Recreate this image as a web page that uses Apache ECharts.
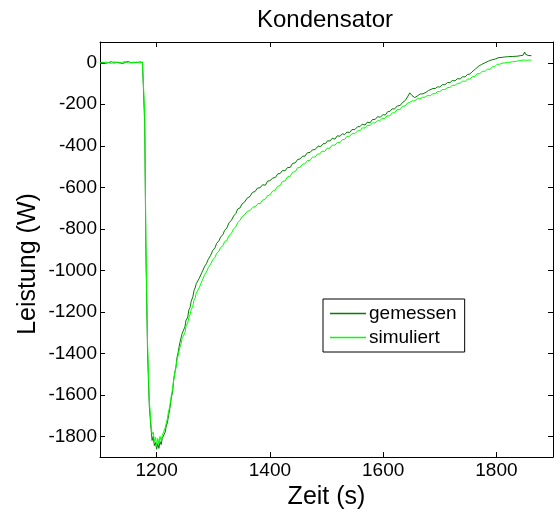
<!DOCTYPE html>
<html>
<head>
<meta charset="utf-8">
<script src="https://cdn.jsdelivr.net/npm/echarts@6/dist/echarts.min.js"></script>
<style>
html,body{margin:0;padding:0;background:#fff;}
#c{width:556px;height:515px;}
</style>
</head>
<body>
<div id="c"></div>
<script>
const titleText = 'Kondensator';
const xName = 'Zeit (s)';
const yName = 'Leistung (W)';
const seriesNames = ['gemessen', 'simuliert'];
const xTicks = [1200, 1400, 1600, 1800];
const yTicks = [0, -200, -400, -600, -800, -1000, -1200, -1400, -1600, -1800];

const gemessenT = [1100,1105,1110,1115,1120,1125,1130,1135,1140,1145,1150,1155,1160,1165,1170,1175,1178,1179,1181,1184,1187,1190,1192,1194,1196,1198,1200,1202,1204,1206,1208,1210,1212,
1215,1217,1219,1221,1223,1224,1226,1228,1230,1232,1234,1236,1238,1241,1243,1245,1247,1250,1252,1255,1257,1259,1261,1264,1266,1268,1270,1272,1275,1277,1280,1282,1285,1288,1291,1295,1299,1303,1306,1310,1313,1317,1320,1324,1328,1332,1336,1340,1343,1347,1351,1355,1360,1365,1369,1374,1378,1383,1387,1392,1396,1400,1405,1410,1414,1418,1422,1427,1431,1436,1440,1445,1449,1453,1458,1462,1466,1471,1475,1480,1485,1490,1494,1498,1502,1506,1510,1515,1519,1524,1528,1532,1536,1541,1545,1550,1555,1559,1563,1568,1572,1577,1581,1586,1590,1595,1600,1604,1608,1612,1616,1620,1625,1630,1634,1639,1643,1647,1651,1656,1659,1662,1666,1670,1673,1676,1680,1683,1688,1692,1696,1700,1705,1709,1714,1718,1722,1727,1731,1736,1740,1745,1749,1753,1757,1760,1763,1766,1769,1771,1774,1777,1780,1783,1786,1789,1792,1795,1798,1800,1803,1806,1810,1815,1820,1824,1828,1833,1838,1842,1845,1847,1848,1850,1851,1853,1856,1859,1862];
const gemessenV = [0,2,-3,1,5,-2,3,0,-4,2,6,-1,3,0,4,2,0,-300,-900,-1400,-1650,-1760,-1820,-1800,-1845,-1830,-1862,-1835,-1858,-1825,-1840,-1810,-1815,
-1780,-1752,-1735,-1700,-1672,-1654,-1612,-1590,-1532,-1493,-1468,-1420,-1395,-1349,-1340,-1305,-1296,-1272,-1240,-1225,-1190,-1180,-1150,-1128,-1098,-1085,-1064,-1066,-1040,-1048,-1010,-1004,-980,-968,-948,-930,-905,-892,-870,-858,-840,-828,-808,-796,-770,-760,-738,-726,-705,-700,-680,-672,-652,-644,-625,-620,-604,-602,-588,-590,-570,-568,-556,-552,-535,-534,-520,-520,-505,-504,-485,-482,-466,-464,-450,-450,-434,-432,-420,-418,-402,-403,-390,-390,-376,-377,-364,-368,-352,-354,-342,-346,-334,-336,-322,-322,-308,-308,-296,-300,-286,-289,-274,-273,-260,-262,-250,-252,-236,-234,-222,-223,-208,-206,-192,-182,-165,-145,-158,-168,-160,-157,-150,-150,-142,-142,-134,-136,-124,-124,-116,-117,-105,-106,-95,-96,-86,-87,-77,-78,-68,-68,-56,-55,-44,-40,-30,-26,-16,-15,-8,-6,0,2,8,10,14,12,18,17,24,26,26,28,29,30,30,31,32,34,34,36,44,52,42,36,35,34,34];

const simuliertT = [1100,1105,1110,1115,1120,1125,1130,1135,1140,1145,1150,1155,1160,1165,1170,1175,1178,1179,1181,1184,1187,1190,1192,1194,1196,1198,1200,1202,1204,1206,1208,1210,1212,
1215,1217,1219,1221,1223,1224,1226,1228,1230,1232,1234,1236,1238,1241,1243,1245,1247,1250,1252,1255,1257,1259,1261,1264,1266,1268,1270,1272,1275,1277,1280,1282,1285,1288,1291,1295,1299,1303,1306,1310,1313,1317,1320,1324,1328,1332,1336,1340,1343,1347,1351,1355,1360,1365,1370,1376,1379,1383,1387,1392,1396,1400,1405,1409,1414,1418,1422,1427,1431,1436,1440,1445,1449,1453,1458,1462,1466,1471,1475,1480,1484,1488,1492,1497,1501,1506,1510,1515,1519,1524,1528,1532,1536,1541,1545,1550,1555,1559,1563,1568,1572,1577,1581,1586,1590,1594,1598,1603,1607,1612,1616,1620,1625,1630,1634,1639,1643,1647,1651,1656,1660,1665,1670,1674,1678,1683,1688,1692,1696,1700,1705,1709,1714,1718,1722,1727,1731,1736,1740,1745,1749,1753,1758,1762,1766,1771,1775,1780,1784,1789,1793,1797,1801,1806,1810,1815,1820,1824,1828,1833,1838,1842,1845,1847,1850,1853,1856,1859,1862];
const simuliertV = [0,-2,4,0,-3,5,1,-2,3,6,-1,2,0,4,-2,3,0,-250,-850,-1350,-1620,-1740,-1790,-1780,-1825,-1805,-1842,-1810,-1835,-1800,-1820,-1795,-1790,
-1760,-1736,-1715,-1680,-1660,-1640,-1602,-1575,-1530,-1498,-1470,-1432,-1410,-1372,-1356,-1328,-1318,-1300,-1270,-1252,-1225,-1214,-1190,-1172,-1145,-1134,-1110,-1104,-1085,-1082,-1052,-1043,-1020,-1008,-988,-972,-950,-938,-918,-908,-890,-882,-862,-856,-832,-823,-800,-790,-770,-760,-742,-733,-716,-712,-696,-690,-678,-679,-662,-657,-640,-637,-618,-614,-595,-592,-572,-570,-550,-547,-528,-524,-506,-504,-488,-487,-472,-470,-455,-454,-440,-440,-426,-427,-412,-412,-397,-397,-384,-384,-370,-370,-355,-354,-342,-342,-328,-328,-314,-314,-302,-302,-290,-290,-279,-280,-268,-268,-256,-256,-242,-241,-226,-226,-210,-208,-194,-191,-184,-183,-174,-173,-166,-166,-158,-159,-149,-149,-139,-139,-129,-129,-119,-119,-109,-109,-99,-99,-89,-89,-79,-79,-66,-66,-53,-53,-41,-41,-31,-31,-19,-19,-8,-7,-2,-1,2,2,5,6,9,10,12,13,16,12,13,13,12];

const zip = (t, v) => t.map((x, i) => [x, v[i]]);
const font = 'Liberation Sans, Arial, sans-serif';
const fmt = v => String(v);

const chart = echarts.init(document.getElementById('c'), null, {renderer: 'canvas'});
const tick = vals => ({show: true, inside: true, length: 5, customValues: vals, lineStyle: {color: '#000'}});
const line = {show: true, onZero: false, lineStyle: {color: '#000', width: 1}};
chart.setOption({
  animation: false,
  backgroundColor: '#fff',
  title: {
    text: titleText, left: 320, top: 3, textAlign: 'center',
    textStyle: {fontFamily: font, fontSize: 24, fontWeight: 'normal', color: '#000'}
  },
  grid: {left: 100, right: 3, top: 42, bottom: 57, containLabel: false},
  legend: {
    data: seriesNames, orient: 'vertical', left: 323, top: 299,
    width: 143, padding: [5, 8, 5, 7], itemGap: 5,
    borderColor: '#000', borderWidth: 1, backgroundColor: '#fff', borderRadius: 0,
    icon: 'rect', itemWidth: 36, itemHeight: 1.5,
    textStyle: {fontFamily: font, fontSize: 19, color: '#000', padding: [0, 0, 0, -2]}
  },
  graphic: [{
    type: 'text', x: 28, y: 264, rotation: Math.PI / 2,
    style: {text: yName, font: '25px ' + font, fill: '#000', align: 'center', verticalAlign: 'middle'}
  }],
  xAxis: [
    {
      type: 'value', min: 1100, max: 1900, position: 'bottom',
      name: xName, nameLocation: 'middle', nameGap: 20,
      nameTextStyle: {fontFamily: font, fontSize: 25, color: '#000'},
      axisLine: line, axisTick: tick(xTicks), splitLine: {show: false},
      axisLabel: {customValues: xTicks, formatter: fmt, margin: 4, fontFamily: font, fontSize: 19, color: '#000'}
    },
    {
      type: 'value', min: 1100, max: 1900, position: 'top',
      axisLine: line, axisTick: tick(xTicks), splitLine: {show: false},
      axisLabel: {show: false, customValues: xTicks}
    }
  ],
  yAxis: [
    {
      type: 'value', min: -1900, max: 100, position: 'left',
      axisLine: line, axisTick: tick(yTicks), splitLine: {show: false},
      axisLabel: {customValues: yTicks, formatter: fmt, margin: 3, fontFamily: font, fontSize: 19, color: '#000'}
    },
    {
      type: 'value', min: -1900, max: 100, position: 'right',
      axisLine: line, axisTick: tick(yTicks), splitLine: {show: false},
      axisLabel: {show: false, customValues: yTicks}
    }
  ],
  series: [
    {
      name: seriesNames[0], type: 'line', data: zip(gemessenT, gemessenV),
      showSymbol: false, symbol: 'none', color: '#007f00',
      lineStyle: {color: '#007f00', width: 1}, z: 3
    },
    {
      name: seriesNames[1], type: 'line', data: zip(simuliertT, simuliertV),
      showSymbol: false, symbol: 'none', color: '#00ff00',
      lineStyle: {color: '#00ff00', width: 1}, z: 4
    }
  ]
});
</script>
</body>
</html>
